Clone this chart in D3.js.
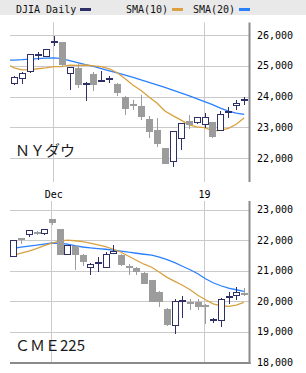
<!DOCTYPE html>
<html><head><meta charset="utf-8">
<script src="https://cdn.jsdelivr.net/npm/d3@7"></script>
<style>html,body{margin:0;padding:0;background:#fff;}svg{display:block}</style>
</head><body><svg id="c" width="306" height="373"></svg>
<script>
// ---------- DATA ----------
const djiaDates = ["2018-11-23","2018-11-26","2018-11-27","2018-11-28","2018-11-29","2018-11-30","2018-12-03","2018-12-04","2018-12-06","2018-12-07","2018-12-10","2018-12-11","2018-12-12","2018-12-13","2018-12-14","2018-12-17","2018-12-18","2018-12-19","2018-12-20","2018-12-21","2018-12-24","2018-12-26","2018-12-27","2018-12-28","2018-12-31","2019-01-02","2019-01-03","2019-01-04","2019-01-07","2019-01-08","2019-01-09"];
const djiaOpen  = [null,24400,24580,24790,25330,25300,25750,25780,24720,24918,24380,24730,24480,24560,24400,23970,23750,23690,23270,22920,22317,21857,22629,23213,23153,23058,23176,22894,23474,23680,23864];
const djiaHigh  = [null,24660,24790,25370,25460,25540,25970,25780,24960,25090,24480,24800,24840,24660,24450,24010,23900,24050,23380,23290,22339,22879,23139,23400,23333,23450,23176,23518,23645,23880,23970];
const djiaLow   = [null,24360,24410,24770,25190,25290,25640,24950,24210,24265,23860,24190,24470,24450,24030,23410,23560,23250,22640,22370,21792,21712,22260,22940,23118,22990,22638,22880,23290,23557,23730];
const djiaClose = [null,24640,24748,25366,25339,25538,25826,25027,24947,24389,24423,24370,24527,24597,24100,23592,23675,23324,22860,22445,21792,22878,23139,23062,23327,23346,22686,23433,23531,23787,23879];
const djiaSma10 = [25060,24933,24869,24877,24903,24928,24969,24970,25018,25011,25024,24997,24975,24898,24774,24580,24365,24194,23986,23791,23528,23379,23240,23087,23009,22985,22886,22897,22964,23098,23307];
const djiaSma20 = [25183,25186,25199,25218,25235,25251,25257,25235,25170,25101,25039,24980,24909,24837,24769,24697,24625,24541,24459,24378,24296,24208,24121,24029,23932,23834,23736,23622,23524,23459,23420];
const djiaTicks = [22000,23000,24000,25000,26000];

const cmeDates = ["2018-11-23","2018-11-26","2018-11-27","2018-11-28","2018-11-29","2018-11-30","2018-12-03","2018-12-04","2018-12-05","2018-12-06","2018-12-07","2018-12-10","2018-12-11","2018-12-12","2018-12-13","2018-12-14","2018-12-17","2018-12-18","2018-12-19","2018-12-20","2018-12-21","2018-12-24","2018-12-26","2018-12-27","2018-12-28","2018-12-31","2019-01-02","2019-01-03","2019-01-04","2019-01-07","2019-01-08","2019-01-09"];
const cmeOpen  = [null,21445,22068,22157,22250,22190,22682,22354,21524,21806,21524,21097,21245,21097,21556,21501,21140,21084,20933,20678,20297,19752,19181,19995,19969,19969,19859,19360,19345,20080,20156,20277];
const cmeHigh  = [null,22010,22080,22330,22288,22370,22690,22354,21850,21830,21540,21250,21445,21600,21829,21540,21205,21120,20960,20700,20330,19770,20050,20156,20080,20080,19916,19444,20100,20297,20461,20441];
const cmeLow   = [null,21440,21885,22100,22157,22180,22485,21520,21500,21010,21150,20845,20953,21080,21540,21140,20868,20845,20550,19960,19805,19180,18909,19457,19696,19700,19260,19280,19150,19893,20047,20156];
const cmeClose = [null,21993,22016,22321,22220,22354,22573,21524,21829,21500,21281,21228,21251,21556,21642,21173,21064,20953,20572,19968,19969,19204,20001,20001,19893,19805,19783,19368,20077,20156,20297,20189];
const cmeSma10 = [21430,21501,21566,21638,21720,21812,21894,21960,21993,21976,21944,21894,21839,21779,21697,21599,21468,21337,21206,21107,20940,20775,20642,20516,20368,20188,20040,19909,19844,19827,19867,19958];
const cmeSma20 = [21710,21730,21763,21796,21829,21868,21901,21894,21862,21812,21770,21743,21720,21697,21671,21638,21599,21566,21533,21501,21435,21353,21255,21140,21025,20894,20730,20598,20500,20424,20369,20319];
const cmeTicks = [18000,19000,20000,21000,22000,23000];

const xTickDates = ["2018-12-03","2019-01-02"];
const xTickLabels = ["Dec","19"];
const legendLabels = ["DJIA Daily","SMA(10)","SMA(20)"];
const panelTitles = ["ＮＹダウ","ＣＭＥ225"];

// ---------- STYLE ----------
const NAVY = "#2f2f68", GRAY = "#9c9c9c", ORANGE = "#d9a13f", BLUE = "#2a80ff", GRID = "#cacaca", AXIS = "#8a8a8a";
const MONO = "'DejaVu Sans Mono', monospace";
const svg = d3.select("#c");
const L = 10, R = 249;

// header
svg.append("rect").attr("x",0).attr("y",0).attr("width",306).attr("height",15).attr("fill","#e9e9e9");
const legendX = [16, 126, 193], swX = [80, 172, 239], swC = [NAVY, ORANGE, BLUE];
legendLabels.forEach((t,i)=>{
  svg.append("text").attr("x",legendX[i]).attr("y",12.5).attr("font-family",MONO).attr("font-size",10).attr("fill","#111").text(t);
  svg.append("rect").attr("x",swX[i]).attr("y",8).attr("width",11).attr("height",3).attr("fill",swC[i]);
});

function panel(cfg){
  const {dates,O,H,Lo,C,s10,s20,ticks,yDom,yRng,top,bottom,x0,x1,title,titleY,bottomBorder,id} = cfg;
  const x = d3.scaleLinear().domain([0,dates.length-1]).range([x0,x1]);
  const y = d3.scaleLinear().domain(yDom).range(yRng);
  const g = svg.append("g");
  const cp = svg.append("clipPath").attr("id",id).append("rect").attr("x",L).attr("y",top).attr("width",R-L-1).attr("height",bottom-top);
  // horizontal grid
  ticks.forEach(t=>{
    const yy = Math.round(y(t))+0.5;
    if (yy > top && yy < bottom-1)
      g.append("line").attr("x1",L).attr("x2",R).attr("y1",yy).attr("y2",yy).attr("stroke",GRID).attr("stroke-width",1);
  });
  // vertical grid
  xTickDates.forEach(d=>{
    const k = dates.indexOf(d);
    const xx = Math.round(x(k))-0.5;
    g.append("line").attr("x1",xx).attr("x2",xx).attr("y1",top).attr("y2",bottom).attr("stroke",GRID);
  });
  const pg = g.append("g").attr("clip-path",`url(#${id})`);
  const line = d3.line().x((d,i)=>x(i)).y(d=>y(d));
  pg.append("path").attr("d",line(s20)).attr("fill","none").attr("stroke",BLUE).attr("stroke-width",1.3);
  pg.append("path").attr("d",line(s10)).attr("fill","none").attr("stroke",ORANGE).attr("stroke-width",1.3);
  // candles
  O.forEach((o,i)=>{
    if (o==null) return;
    const c = C[i], h = H[i], l = Lo[i];
    const cx = Math.round(x(i));
    const up = c >= o;
    const col = up ? NAVY : GRAY;
    const yT = y(Math.max(o,c)), yB = y(Math.min(o,c));
    pg.append("line").attr("x1",cx+0.5).attr("x2",cx+0.5).attr("y1",Math.round(y(h))).attr("y2",Math.round(y(l))).attr("stroke",col).attr("stroke-width",1);
    if (yB - yT < 2.5) {
      const ym = Math.round((yT+yB)/2);
      pg.append("rect").attr("x",cx-3).attr("y",ym-1).attr("width",7).attr("height",2).attr("fill",col);
    } else if (up) {
      pg.append("rect").attr("x",cx-2.5).attr("y",Math.round(yT)+0.5).attr("width",6).attr("height",Math.max(1,Math.round(yB)-Math.round(yT)-1)).attr("fill","#fff").attr("stroke",NAVY).attr("stroke-width",1);
    } else {
      pg.append("rect").attr("x",cx-3).attr("y",Math.round(yT)).attr("width",7).attr("height",Math.round(yB)-Math.round(yT)).attr("fill",GRAY);
    }
  });
  // right axis
  g.append("line").attr("x1",R+0.5).attr("x2",R+0.5).attr("y1",top).attr("y2",bottomBorder?bottom+1:bottom).attr("stroke",AXIS).attr("stroke-width",2);
  if (bottomBorder)
    g.append("line").attr("x1",L).attr("x2",R+1.5).attr("y1",bottom).attr("y2",bottom).attr("stroke",AXIS).attr("stroke-width",2);
  // y labels
  ticks.forEach(t=>{
    g.append("text").attr("x",257).attr("y",y(t)).attr("dy","0.36em").attr("font-family",MONO).attr("font-size",10).attr("fill","#000").text(d3.format(",")(t));
  });
  g.append("text").attr("x",15).attr("y",titleY).attr("font-family","'Noto Sans CJK JP', sans-serif").attr("font-size",15).attr("fill","#1a1a1a").text(title);
  return x;
}

const xTop = panel({dates:djiaDates,O:djiaOpen,H:djiaHigh,Lo:djiaLow,C:djiaClose,s10:djiaSma10,s20:djiaSma20,ticks:djiaTicks,
  yDom:[22000,26000],yRng:[158,35],top:22.5,bottom:182,x0:6.2,x1:244.2,title:panelTitles[0],titleY:156,bottomBorder:false,id:"cp1"});
panel({dates:cmeDates,O:cmeOpen,H:cmeHigh,Lo:cmeLow,C:cmeClose,s10:cmeSma10,s20:cmeSma20,ticks:cmeTicks,
  yDom:[18000,23000],yRng:[362,209.5],top:201,bottom:363,x0:5.8,x1:243.9,title:panelTitles[1],titleY:351,bottomBorder:true,id:"cp2"});

// x labels
xTickDates.forEach((d,i)=>{
  const k = djiaDates.indexOf(d);
  svg.append("text").attr("x",xTop(k)).attr("y",194.5).attr("dy","0.36em").attr("text-anchor","middle").attr("font-family",MONO).attr("font-size",10).attr("fill","#000").text(xTickLabels[i]);
});
</script>
</body></html>
